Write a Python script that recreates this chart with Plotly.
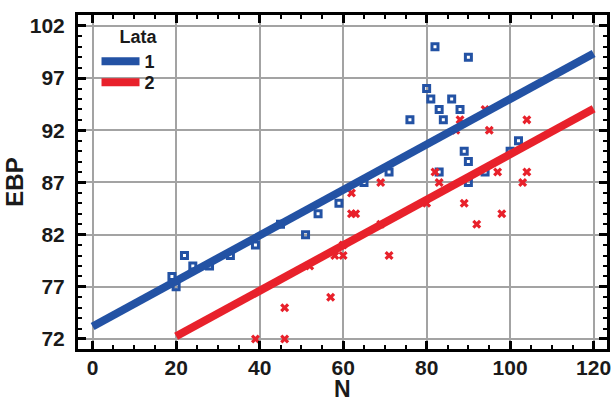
import numpy as np
import plotly.graph_objects as go

# ---- data ----
lata1_n = [19, 20, 22, 24, 28, 33, 39, 45, 51, 54, 59, 65, 71, 76, 80, 81, 82, 83, 83, 84, 86, 88, 89, 90, 90, 90, 94, 100, 102]
lata1_ebp = [78, 77, 80, 79, 79, 80, 81, 83, 82, 84, 85, 87, 88, 93, 96, 95, 100, 94, 88, 93, 95, 94, 90, 99, 89, 87, 88, 90, 91]
lata2_n = [39, 46, 46, 57, 52, 58, 60, 60, 62, 63, 62, 69, 69, 71, 80, 82, 83, 87, 88, 89, 92, 94, 95, 97, 98, 103, 104, 104]
lata2_ebp = [72, 72, 75, 76, 79, 80, 80, 81, 84, 84, 86, 83, 87, 80, 85, 88, 87, 92, 93, 85, 83, 94, 92, 88, 84, 87, 88, 93]

# fitted lines (common slope)
slope = 0.218
intercept1 = 73.2
intercept2 = 67.9
fit1_n = [0, 120]
fit2_n = [20, 120]

x_ticks = [0, 20, 40, 60, 80, 100, 120]
y_ticks = [72, 77, 82, 87, 92, 97, 102]

BLUE = "#2352a4"
RED = "#e8212b"
TXT = "#1a1a1a"
FONT = "Liberation Sans"

fig = go.Figure()
fig.add_trace(go.Scatter(x=lata1_n, y=lata1_ebp, mode="markers", showlegend=False,
                         marker=dict(symbol="square-open", size=6, color=BLUE,
                                     line=dict(width=3, color=BLUE))))
fig.add_trace(go.Scatter(x=lata2_n, y=lata2_ebp, mode="markers", showlegend=False,
                         marker=dict(symbol="x", size=8, color=RED,
                                     line=dict(width=0))))
f1 = np.array(fit1_n, dtype=float)
f2 = np.array(fit2_n, dtype=float)
fig.add_trace(go.Scatter(x=f1, y=intercept1 + slope * f1, mode="lines", name="1",
                         line=dict(color=BLUE, width=8), legend="legend"))
fig.add_trace(go.Scatter(x=f2, y=intercept2 + slope * f2, mode="lines", name="2",
                         line=dict(color=RED, width=8), legend="legend2"))

axis_common = dict(
    showline=True, linecolor="black", linewidth=3, mirror="ticks",
    ticks="inside", ticklen=8, tickwidth=2.5, tickcolor="black",
    showgrid=True, gridcolor="#a3a3a3", gridwidth=2,
    zeroline=False,
    tickfont=dict(family=FONT, size=21, color=TXT, weight="bold"),
)

fig.update_xaxes(
    range=[-3.5, 123.2], tickvals=x_ticks, ticktext=[str(v) for v in x_ticks],
    minor=dict(dtick=5, tick0=0, ticks="inside", ticklen=4, tickwidth=2, tickcolor="black", showgrid=False),
    ticklabelstandoff=-2,
    **axis_common,
)
fig.update_yaxes(
    range=[71.04, 103.05], tickvals=y_ticks, ticktext=[str(v) for v in y_ticks],
    minor=dict(dtick=1, tick0=72, ticks="inside", ticklen=4, tickwidth=2, tickcolor="black", showgrid=False),
    title=dict(text="EBP", font=dict(family=FONT, size=24, color=TXT, weight="bold"), standoff=0),
    ticklabelstandoff=6,
    **axis_common,
)

# x-axis title placed as an annotation so it can sit at the very bottom edge
fig.add_annotation(text="N", xref="paper", yref="paper", x=0.5, y=-0.12,
                   xanchor="center", yanchor="middle", showarrow=False,
                   font=dict(family=FONT, size=23, color=TXT, weight="bold"))

leg_font = dict(family=FONT, size=18, color=TXT, weight="bold")
fig.update_layout(
    width=614, height=399,
    margin=dict(l=78, r=7, t=15, b=50, autoexpand=False),
    plot_bgcolor="white", paper_bgcolor="white",
    legend=dict(
        x=0.035, y=0.986, xanchor="left", yanchor="top",
        bgcolor="rgba(0,0,0,0)", borderwidth=0, itemwidth=38,
        title=dict(text="&nbsp;&nbsp;&nbsp;&nbsp;Lata", side="top center", font=leg_font),
        font=leg_font, tracegroupgap=0,
    ),
    legend2=dict(
        x=0.035, y=0.853, xanchor="left", yanchor="top",
        bgcolor="rgba(0,0,0,0)", borderwidth=0, itemwidth=38,
        font=leg_font, tracegroupgap=0,
    ),
)

fig.write_html("out.html")
